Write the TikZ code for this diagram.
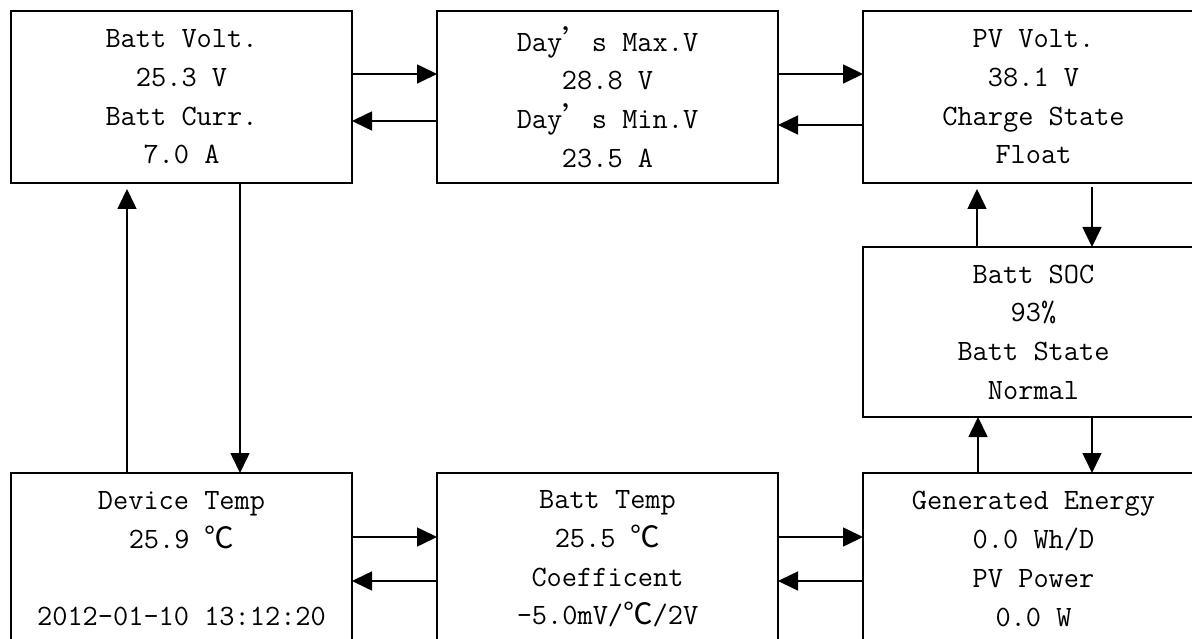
\documentclass[tikz,border=0pt]{standalone}
\usepackage{fontspec}
\usepackage{tikz}
\usetikzlibrary{arrows.meta,positioning}
\newfontfamily\cjkfont{Noto Sans CJK SC}
\newcommand{\degc}{{\cjkfont ℃}}
\newcommand{\apos}{{\cjkfont ’}}
\newcommand{\panelfont}{\ttfamily\fontsize{29.5pt}{38.7pt}\selectfont}

\begin{document}
\begin{tikzpicture}[x=1pt,y=-1pt,
    panel/.style={draw,line width=1.6pt,anchor=north west,minimum width=341pt,minimum height=172pt,inner sep=0pt,outer sep=0pt,align=center,font=\panelfont},
    flow/.style={line width=1.6pt,-{Triangle[length=20pt,width=19pt]}}]
    \path[use as bounding box,clip] (0,0) rectangle (1192,639);
    % top row
    \node[panel] (battv) at (11,11) {Batt Volt.\\25.3 V\\Batt Curr.\\7.0 A};
    \node[panel,right=85pt of battv] (daymax) {Day\apos s Max.V\\28.8 V\\Day\apos s Min.V\\23.5 A};
    \node[panel,right=85pt of daymax] (pvv) {PV Volt.\\38.1 V\\Charge State\\Float};
    % bottom row
    \node[panel,below=290pt of battv] (devt) {Device Temp\\25.9 \degc\\[38.7pt]2012-01-10 13:12:20};
    \node[panel,right=85pt of devt] (batt) {Batt Temp\\25.5 \degc\\Coefficent\\-5.0mV/\degc/2V};
    \node[panel,right=85pt of batt] (gen) {Generated Energy\\0.0 Wh/D\\PV Power\\0.0 W};
    % right column
    \node[panel,minimum height=170pt,below=64pt of pvv] (soc) {Batt SOC\\93\%\\Batt State\\Normal};
    % horizontal links
    \draw[flow] ([yshift=-63pt]battv.north east) -- ([yshift=-63pt]battv.north east -| daymax.west);
    \draw[flow] ([yshift=-110pt]daymax.north west) -- ([yshift=-110pt]daymax.north west -| battv.east);
    \draw[flow] ([yshift=-63pt]daymax.north east) -- ([yshift=-63pt]daymax.north east -| pvv.west);
    \draw[flow] ([yshift=-114pt]pvv.north west) -- ([yshift=-114pt]pvv.north west -| daymax.east);
    \draw[flow] ([yshift=-64pt]devt.north east) -- ([yshift=-64pt]devt.north east -| batt.west);
    \draw[flow] ([yshift=-108pt]batt.north west) -- ([yshift=-108pt]batt.north west -| devt.east);
    \draw[flow] ([yshift=-64pt]batt.north east) -- ([yshift=-64pt]batt.north east -| gen.west);
    \draw[flow] ([yshift=-108pt]gen.north west) -- ([yshift=-108pt]gen.north west -| batt.east);
    % vertical links
    \draw[flow,shorten >=6pt] ([xshift=116pt]devt.north west) -- ([xshift=116pt]devt.north west |- battv.south);
    \draw[flow] ([xshift=229pt]battv.south west) -- ([xshift=229pt]battv.south west |- devt.north);
    \draw[flow,shorten >=6pt] ([xshift=114pt]soc.north west) -- ([xshift=114pt]soc.north west |- pvv.south);
    \draw[flow,shorten <=4pt] ([xshift=229pt]pvv.south west) -- ([xshift=229pt]pvv.south west |- soc.north);
    \draw[flow] ([xshift=115pt]gen.north west) -- ([xshift=115pt]gen.north west |- soc.south);
    \draw[flow] ([xshift=229pt]soc.south west) -- ([xshift=229pt]soc.south west |- gen.north);
\end{tikzpicture}
\end{document}
